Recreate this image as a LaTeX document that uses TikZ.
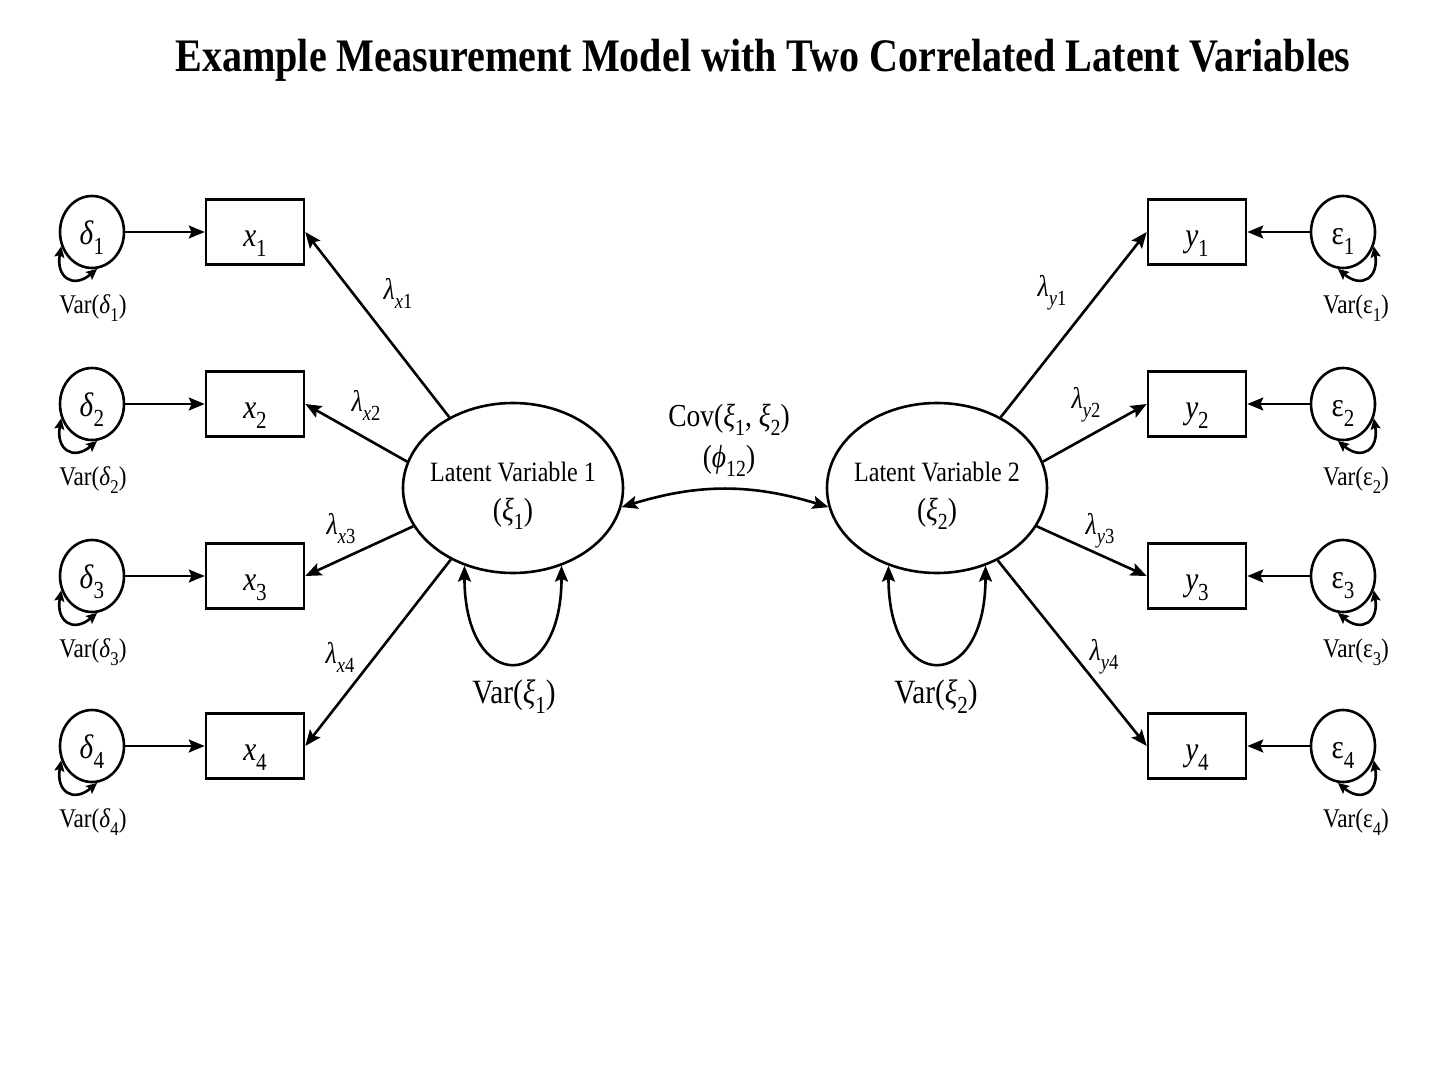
\documentclass[tikz,border=0pt]{standalone}
\usepackage{fontspec}
\setmainfont{Liberation Serif}[FakeStretch=0.86]
\usetikzlibrary{arrows.meta,shapes.geometric}
\newcommand\lo[1]{\raisebox{-0.3em}{\scalebox{0.72}{#1}}}
\newcommand\fsz[1]{\fontsize{#1}{#1}\selectfont}
\begin{document}
\begin{tikzpicture}[x=1pt,y=1pt,
  every path/.style={line width=2.6pt},
  tip/.style={-{Stealth[length=16pt,width=13pt,inset=3pt]}},
  dtip/.style={{Stealth[length=16pt,width=13pt,inset=3pt]}-{Stealth[length=16pt,width=13pt,inset=3pt]}},
  stip/.style={{Stealth[length=11pt,width=10pt,inset=2pt]}-{Stealth[length=11pt,width=10pt,inset=2pt]}},
  lat/.style={ellipse,draw,minimum width=220pt,minimum height=170pt,inner sep=0pt},
  lattxt/.style={inner sep=0pt,font=\fsz{28}},
  obs/.style={rectangle,draw,minimum width=98pt,minimum height=65pt,inner sep=0pt,text height=28pt,text depth=0pt,font=\fsz{34}},
  err/.style={ellipse,draw,minimum width=64pt,minimum height=72pt,inner sep=0pt,text height=24pt,text depth=0pt,font=\fsz{34}},
  lam/.style={inner sep=0pt,font=\fsz{30}},
  evar/.style={inner sep=0pt,font=\fsz{27}},
  lvar/.style={inner sep=0pt,font=\fsz{34}}]
\path[use as bounding box,fill=white] (0,0) rectangle (1448,-1086);
\node[inner sep=0pt] (title) at (763,-60) {\fsz{46.6}\bfseries Example Measurement Model with Two Correlated Latent Variables};
% latent
\node[lat] (L1) at (513,-488) {};
\node[lat] (L2) at (937,-488) {};
\node[lattxt] (L1a) at ([yshift=16pt]L1.center) {Latent Variable 1};
\node[lattxt,font=\fsz{32}] (L1b) at ([yshift=-26pt]L1.center) {(\textit{ξ}\lo{1})};
\node[lattxt] (L2a) at ([yshift=16pt]L2.center) {Latent Variable 2};
\node[lattxt,font=\fsz{32}] (L2b) at ([yshift=-26pt]L2.center) {(\textit{ξ}\lo{2})};
% left and right sides
\foreach \i/\yy in {1/-232,2/-404,3/-576,4/-746}{
  \node[obs] (x\i) at (255,\yy) {\textit{x}\lo{\i}};
  \node[err] (d\i) at (92,\yy) {\textit{δ}\lo{\i}};
  \node[evar] (vd\i) at (93,\yy-76) {Var(\textit{δ}\lo{\i})};
  \draw[tip] (d\i) -- (x\i);
  \draw[stip] (d\i.205) to[out=260,in=220,looseness=1.9] (d\i.278);
  \node[obs] (y\i) at (1197,\yy) {\textit{y}\lo{\i}};
  \node[err] (e\i) at (1343,\yy) {ε\lo{\i}};
  \node[evar] (ve\i) at (1356,\yy-76) {Var(ε\lo{\i})};
  \draw[tip] (e\i) -- (y\i);
  \draw[stip] (e\i.335) to[out=280,in=320,looseness=1.9] (e\i.262);
}
% loadings
\draw[tip] (L1.132) -- (x1.east);
\draw[tip] (L1.166) -- (x2.east);
\draw[tip] (L1.201) -- (x3.east);
\draw[tip] (L1.229) -- (x4.east);
\draw[tip] (L2.48) -- (y1.west);
\draw[tip] (L2.14) -- (y2.west);
\draw[tip] (L2.-21) -- (y3.west);
\draw[tip] (L2.-50) -- (y4.west);
\node[lam] (lx1) at (398,-293) {\textit{λ}\lo{\textit{x}1}};
\node[lam] (lx2) at (366,-405) {\textit{λ}\lo{\textit{x}2}};
\node[lam] (lx3) at (341,-529) {\textit{λ}\lo{\textit{x}3}};
\node[lam] (lx4) at (340,-657) {\textit{λ}\lo{\textit{x}4}};
\node[lam] (ly1) at (1052,-293) {\textit{λ}\lo{\textit{y}1}};
\node[lam] (ly2) at (1086,-405) {\textit{λ}\lo{\textit{y}2}};
\node[lam] (ly3) at (1100,-531) {\textit{λ}\lo{\textit{y}3}};
\node[lam] (ly4) at (1104,-657) {\textit{λ}\lo{\textit{y}4}};
% latent variances
\draw[dtip] (L1.238) to[out=270,in=270,looseness=3.4] (L1.302);
\draw[dtip] (L2.238) to[out=270,in=270,looseness=3.4] (L2.302);
\node[lvar] (v1) at (514,-697) {Var(\textit{ξ}\lo{1})};
\node[lvar] (v2) at (936,-697) {Var(\textit{ξ}\lo{2})};
% covariance
\draw[dtip] (L1.350) to[out=17,in=163] (L2.190);
\node[inner sep=0pt,font=\fsz{32}] (cov) at (729,-420) {Cov(\textit{ξ}\lo{1}, \textit{ξ}\lo{2})};
\node[inner sep=0pt,font=\fsz{32}] (phi) at (729,-461) {(\textit{ϕ}\lo{12})};
\end{tikzpicture}
\end{document}
